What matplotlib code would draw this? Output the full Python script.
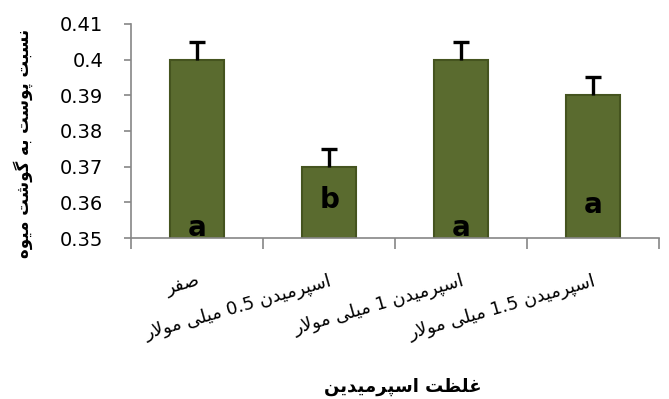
import re
import matplotlib
matplotlib.use("Agg")
import matplotlib.pyplot as plt
import matplotlib.transforms as mtransforms
import numpy as np

# ---------------- data ----------------
categories = ["صفر",
              "اسپرمیدن 0.5 میلی مولار",
              "اسپرمیدن 1 میلی مولار",
              "اسپرمیدن 1.5 میلی مولار"]
values = [0.40, 0.37, 0.40, 0.39]
errors = [0.005, 0.005, 0.005, 0.005]
letters = ["a", "b", "a", "a"]
letter_y = [0.3528, 0.3607, 0.3528, 0.3593]
yticks = [0.35, 0.36, 0.37, 0.38, 0.39, 0.40, 0.41]
ytick_labels = ["0.35", "0.36", "0.37", "0.38", "0.39", "0.4", "0.41"]
xlabel = "غلظت اسپرمیدین"
ylabel = "نسبت پوست به گوشت میوه"

# ------------- minimal Persian shaping (presentation forms + RTL) -------------
AR = {
    '\u0627': ('\uFE8D', '\uFE8E'),
    '\u0628': ('\uFE8F', '\uFE90', '\uFE91', '\uFE92'),
    '\u062A': ('\uFE95', '\uFE96', '\uFE97', '\uFE98'),
    '\u062F': ('\uFEA9', '\uFEAA'),
    '\u0631': ('\uFEAD', '\uFEAE'),
    '\u0633': ('\uFEB1', '\uFEB2', '\uFEB3', '\uFEB4'),
    '\u0634': ('\uFEB5', '\uFEB6', '\uFEB7', '\uFEB8'),
    '\u0635': ('\uFEB9', '\uFEBA', '\uFEBB', '\uFEBC'),
    '\u0638': ('\uFEC5', '\uFEC6', '\uFEC7', '\uFEC8'),
    '\u063A': ('\uFECD', '\uFECE', '\uFECF', '\uFED0'),
    '\u0641': ('\uFED1', '\uFED2', '\uFED3', '\uFED4'),
    '\u0644': ('\uFEDD', '\uFEDE', '\uFEDF', '\uFEE0'),
    '\u0645': ('\uFEE1', '\uFEE2', '\uFEE3', '\uFEE4'),
    '\u0646': ('\uFEE5', '\uFEE6', '\uFEE7', '\uFEE8'),
    '\u0647': ('\uFEE9', '\uFEEA', '\uFEEB', '\uFEEC'),
    '\u0648': ('\uFEED', '\uFEEE'),
    '\u067E': ('\uFB56', '\uFB57', '\uFB58', '\uFB59'),
    '\u06AF': ('\uFB92', '\uFB93', '\uFB94', '\uFB95'),
    '\u06CC': ('\uFBFC', '\uFBFD', '\uFBFE', '\uFBFF'),
}


def _dual(c):
    return c in AR and len(AR[c]) == 4


def shape(s):
    out = []
    i, n = 0, len(s)
    while i < n:
        c = s[i]
        if c not in AR:
            out.append(c)
            i += 1
            continue
        prev_join = i > 0 and _dual(s[i - 1])
        if c == '\u0644' and i + 1 < n and s[i + 1] == '\u0627':
            out.append('\uFEFC' if prev_join else '\uFEFB')
            i += 2
            continue
        next_join = _dual(c) and i + 1 < n and s[i + 1] in AR
        f = AR[c]
        if prev_join and next_join:
            g = f[3]
        elif prev_join:
            g = f[1]
        elif next_join:
            g = f[2]
        else:
            g = f[0]
        out.append(g)
        i += 1
    return ''.join(out)


def fa(s):
    tokens = re.findall(r'[0-9.]+|[^0-9.]', shape(s))
    return ''.join(tokens[::-1])


# ---------------- plot ----------------
plt.rcParams['font.family'] = ['DejaVu Sans']
fig = plt.figure(figsize=(6.69, 3.99), dpi=100)
ax = fig.add_axes([0.196, 0.4035, 0.789, 0.5365])

x = np.arange(len(categories))
ax.bar(x, values, width=0.41, color='#5a6b2f', edgecolor='#45541f',
       linewidth=1.5, zorder=2)
eb = ax.errorbar(x, values, yerr=[np.zeros(len(errors)), errors], fmt='none',
                 ecolor='black', elinewidth=2.4, capsize=5.5, capthick=2.4,
                 zorder=3)
eb[1][0].set_visible(False)  # hide lower cap (only upper error shown)

for xi, lt, ly in zip(x, letters, letter_y):
    ax.text(xi, ly, lt, ha='center', va='center', fontsize=20,
            fontweight='bold', color='black', zorder=4)

ax.set_ylim(0.35, 0.41)
ax.set_xlim(-0.5, len(categories) - 0.5)
ax.set_yticks(yticks)
ax.set_yticklabels(ytick_labels, fontsize=14)

ax.set_xticks(x)
ax.set_xticklabels([fa(c) for c in categories], fontsize=13, rotation=16,
                   ha='right', va='top', rotation_mode='anchor')
shift = mtransforms.ScaledTranslation(8 / 100, 0, fig.dpi_scale_trans)
for lbl in ax.get_xticklabels():
    lbl.set_transform(lbl.get_transform() + shift)
ax.set_xticks(np.arange(len(categories) + 1) - 0.5, minor=True)
ax.tick_params(axis='x', which='major', length=0, pad=24)
ax.tick_params(axis='x', which='minor', length=8, color='#868686', width=1.2)
ax.tick_params(axis='y', length=5, color='#868686', width=1.2, pad=15)

for side in ['top', 'right']:
    ax.spines[side].set_visible(False)
for side in ['left', 'bottom']:
    ax.spines[side].set_color('#868686')
    ax.spines[side].set_linewidth(1.2)

ax.set_xlabel(fa(xlabel), fontsize=13, fontweight='bold', va='top')
ax.xaxis.set_label_coords(0.515, -0.655)
ax.set_ylabel(fa(ylabel), fontsize=12, fontweight='bold', va='center')
ax.yaxis.set_label_coords(-0.205, 0.444)

fig.savefig('out.png', dpi=100)
